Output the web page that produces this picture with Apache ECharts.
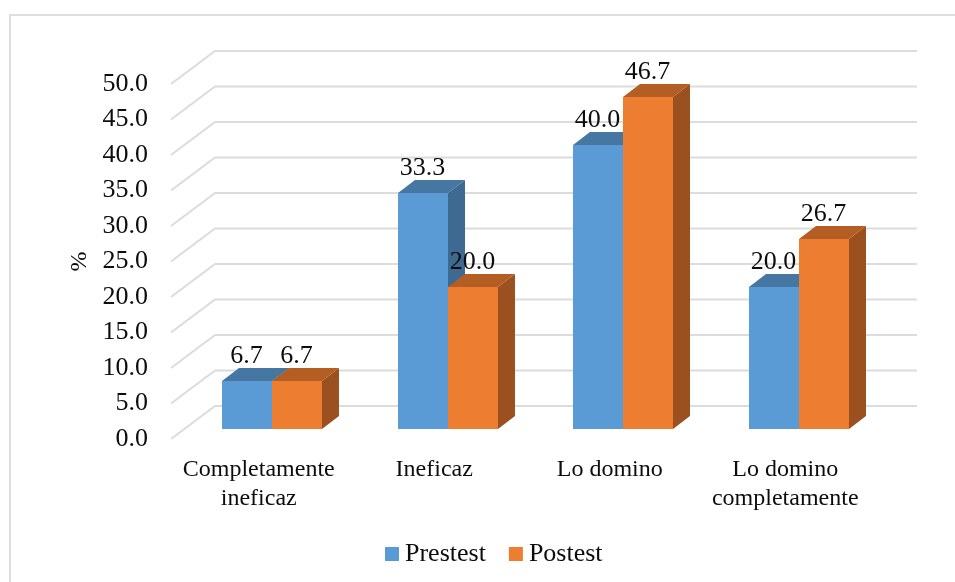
<!DOCTYPE html>
<html>
<head>
<meta charset="utf-8">
<title>Chart</title>
<style>
  html, body { margin: 0; padding: 0; background: #fff; }
  #chart { width: 955px; height: 582px; }
</style>
<script src="https://cdn.jsdelivr.net/npm/echarts@6/dist/echarts.min.js"></script>
</head>
<body>
<div id="chart"></div>
<script>
const categories = ['Completamente\nineficaz', 'Ineficaz', 'Lo domino', 'Lo domino\ncompletamente'];
const prestest = [6.7, 33.3, 40.0, 20.0];
const postest = [6.7, 20.0, 46.7, 26.7];
const yTicks = [0, 5, 10, 15, 20, 25, 30, 35, 40, 45, 50];

const fontFamily = "'Liberation Serif', 'Times New Roman', serif";
const textColor = '#0d0d0d';
const gridColor = '#dcdcdc';

// fake 3D: the axes sit on the front edge of the floor, walls and bars are pushed back from it
const wallDx = 44;
const wallDy = -33;
const barDx = 13.4;
const barDy = -10;
const depthDx = 17;
const depthDy = -13;
const barWidth = 50;

const wallSeries = {
  type: 'custom',
  silent: true,
  z: 1,
  data: yTicks.map((v) => [0, v]),
  encode: { x: 0, y: 1 },
  renderItem: (params, api) => {
    const y = api.coord([0, api.value(1)])[1];
    const x0 = params.coordSys.x;
    const w = params.coordSys.width;
    return {
      type: 'polyline',
      shape: {
        points: [
          [x0, y],
          [x0 + wallDx, y + wallDy],
          [x0 + wallDx + w, y + wallDy],
        ],
      },
      style: { stroke: gridColor, lineWidth: 2, fill: null },
    };
  },
};

const barSeries = (name, values, side, colors) => ({
  name,
  type: 'custom',
  silent: true,
  z: 2,
  itemStyle: { color: colors.front },
  data: values.map((v, i) => [i, v]),
  encode: { x: 0, y: 1 },
  renderItem: (params, api) => {
    const i = api.value(0);
    const v = api.value(1);
    const top = api.coord([i, v]);
    const bottom = api.coord([i, 0]);
    // whole pixels, otherwise the blue side shows through the seam with the orange bar
    const left = Math.round(top[0] + barDx + (side === 0 ? -barWidth : 0));
    const right = left + barWidth;
    const yTop = Math.round(top[1] + barDy);
    const yBot = Math.round(bottom[1] + barDy);
    return {
      type: 'group',
      children: [
        {
          type: 'polygon',
          shape: {
            points: [
              [right, yTop],
              [right + depthDx, yTop + depthDy],
              [right + depthDx, yBot + depthDy],
              [right, yBot],
            ],
          },
          style: { fill: colors.side },
        },
        {
          type: 'polygon',
          shape: {
            points: [
              [left, yTop],
              [left + depthDx, yTop + depthDy],
              [right + depthDx, yTop + depthDy],
              [right, yTop],
            ],
          },
          style: { fill: colors.top },
        },
        {
          type: 'rect',
          shape: { x: left, y: yTop, width: barWidth, height: yBot - yTop },
          style: { fill: colors.front },
        },
        {
          type: 'text',
          z2: 10,
          style: {
            text: v.toFixed(1),
            x: (left + right) / 2 - 0.5,
            y: yTop - 25,
            align: 'center',
            verticalAlign: 'middle',
            fill: textColor,
            font: `26px ${fontFamily}`,
          },
        },
      ],
    };
  },
});

const chart = echarts.init(document.getElementById('chart'), null, { renderer: 'canvas' });

chart.setOption({
  animation: false,
  backgroundColor: '#fff',
  textStyle: { fontFamily },
  grid: { left: 171, top: 84, width: 702, height: 355, containLabel: false },
  xAxis: {
    type: 'category',
    data: categories,
    axisLine: { show: false },
    axisTick: { show: false },
    axisLabel: {
      color: textColor,
      fontFamily,
      fontSize: 24,
      lineHeight: 29,
      margin: 16,
      interval: 0,
    },
  },
  yAxis: {
    type: 'value',
    min: 0,
    max: 50,
    interval: 5,
    name: '%',
    nameLocation: 'middle',
    nameRotate: 90,
    nameGap: 77,
    nameTextStyle: { color: textColor, fontFamily, fontSize: 24 },
    axisLine: { show: false },
    axisTick: { show: false },
    splitLine: { show: false },
    axisLabel: {
      color: textColor,
      fontFamily,
      fontSize: 26,
      margin: 23,
      formatter: (v) => v.toFixed(1),
    },
  },
  legend: {
    left: 380,
    top: 536,
    itemWidth: 14,
    itemHeight: 14,
    itemGap: 23,
    icon: 'rect',
    selectedMode: false,
    data: ['Prestest', 'Postest'],
    textStyle: { color: textColor, fontFamily, fontSize: 26, padding: [0, 0, 0, 1] },
  },
  graphic: [
    // panel border, only the top and left edges show in the crop
    {
      type: 'polyline',
      silent: true,
      shape: { points: [[10, 582], [10, 15], [955, 15]] },
      style: { stroke: '#dedede', lineWidth: 2, fill: null },
    },
  ],
  series: [
    wallSeries,
    barSeries('Prestest', prestest, 0, { front: '#5b9bd5', top: '#4676a2', side: '#3e6a92' }),
    barSeries('Postest', postest, 1, { front: '#ed7d31', top: '#b55e24', side: '#9a501f' }),
  ],
});

window.addEventListener('resize', () => chart.resize());
</script>
</body>
</html>
